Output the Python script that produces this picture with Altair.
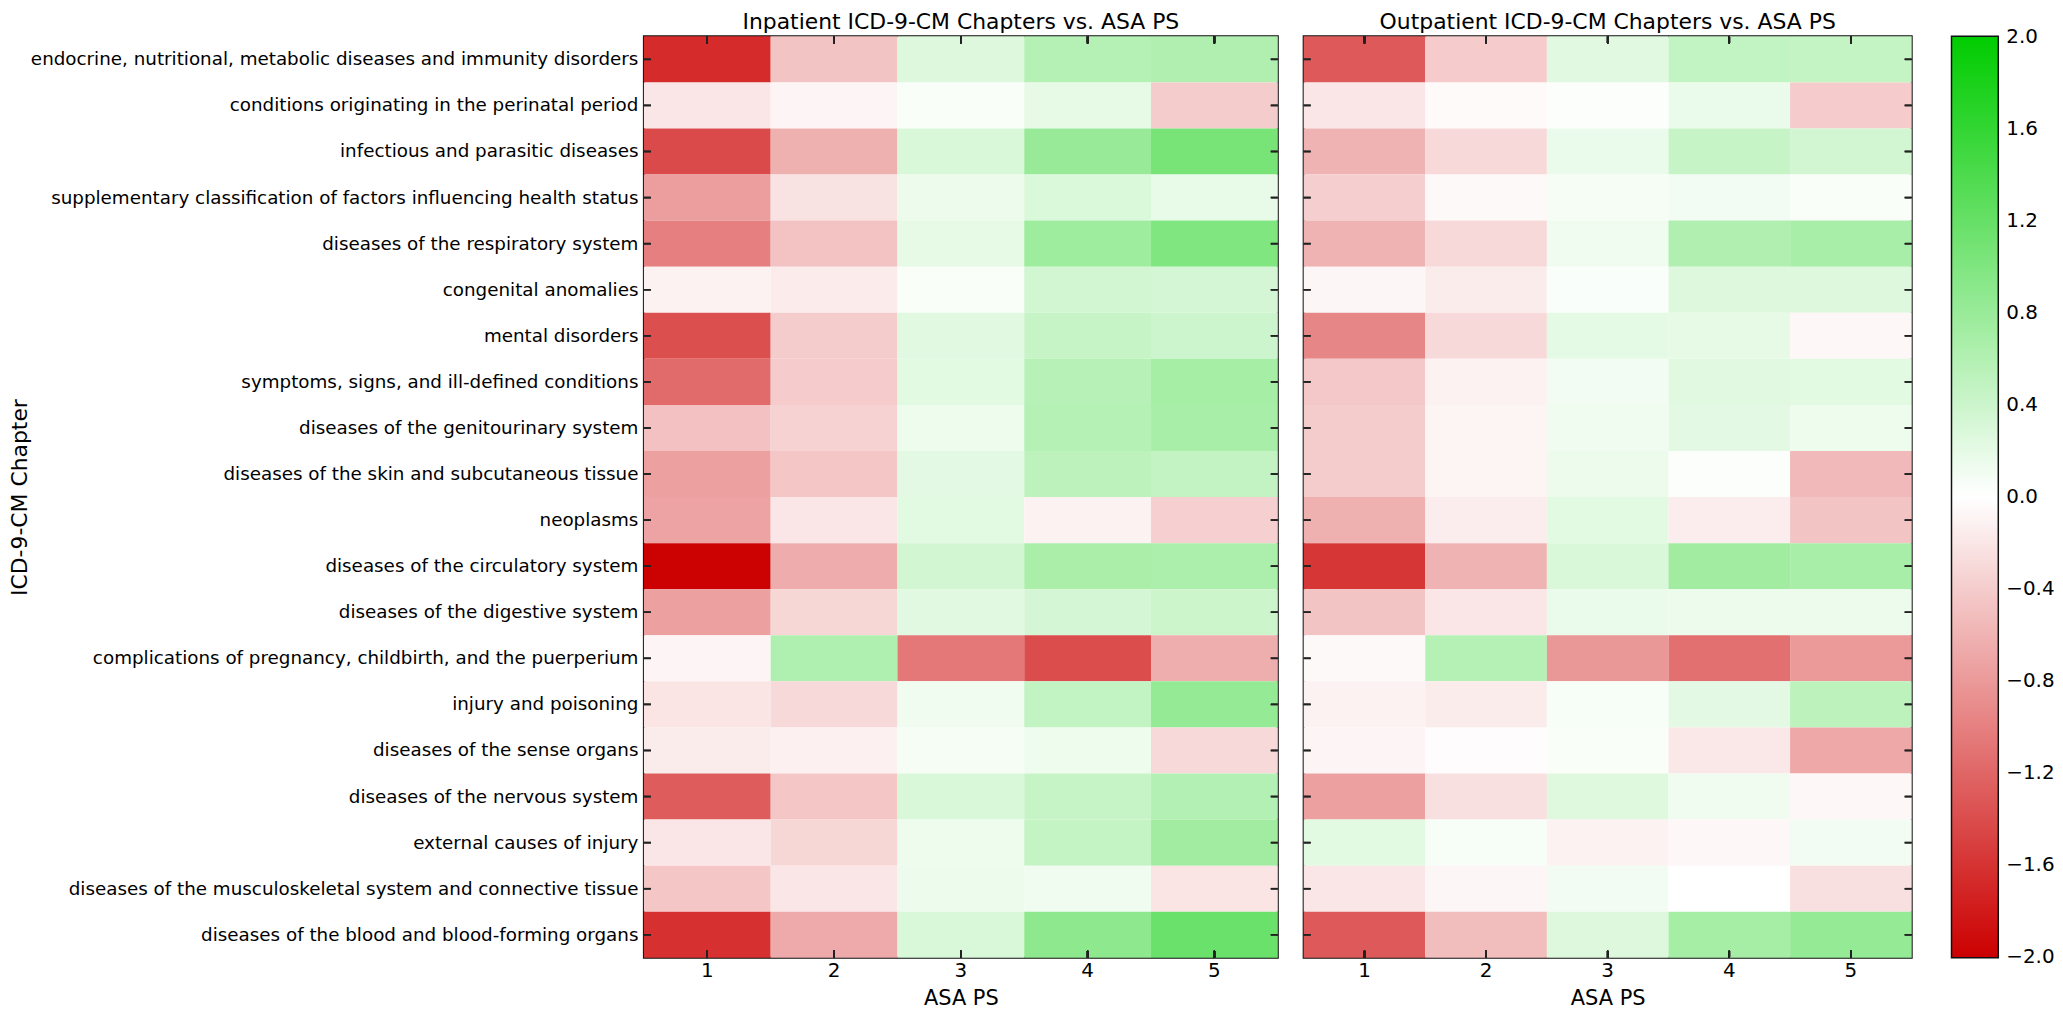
import altair as alt
import pandas as pd

FONT = "DejaVu Sans"

chapters = [
    "endocrine, nutritional, metabolic diseases and immunity disorders",
    "conditions originating in the perinatal period",
    "infectious and parasitic diseases",
    "supplementary classification of factors influencing health status",
    "diseases of the respiratory system",
    "congenital anomalies",
    "mental disorders",
    "symptoms, signs, and ill-defined conditions",
    "diseases of the genitourinary system",
    "diseases of the skin and subcutaneous tissue",
    "neoplasms",
    "diseases of the circulatory system",
    "diseases of the digestive system",
    "complications of pregnancy, childbirth, and the puerperium",
    "injury and poisoning",
    "diseases of the sense organs",
    "diseases of the nervous system",
    "external causes of injury",
    "diseases of the musculoskeletal system and connective tissue",
    "diseases of the blood and blood-forming organs",
]
asa_levels = [1, 2, 3, 4, 5]

# Inpatient panel, one list per ASA PS level (rows in chapter order)
in_asa1 = [-1.67, -0.20, -1.42, -0.76, -1.00, -0.10, -1.38, -1.17, -0.49, -0.75,
           -0.72, -2.00, -0.75, -0.08, -0.21, -0.15, -1.28, -0.20, -0.45, -1.63]
in_asa2 = [-0.46, -0.08, -0.62, -0.23, -0.48, -0.16, -0.40, -0.41, -0.35, -0.45,
           -0.20, -0.65, -0.32, 0.63, -0.30, -0.12, -0.45, -0.32, -0.20, -0.67]
in_asa3 = [0.27, 0.05, 0.30, 0.15, 0.20, 0.05, 0.24, 0.23, 0.13, 0.22,
           0.23, 0.35, 0.24, -1.06, 0.12, 0.08, 0.30, 0.13, 0.15, 0.30]
in_asa4 = [0.58, 0.20, 0.81, 0.29, 0.76, 0.35, 0.45, 0.56, 0.58, 0.52,
           -0.10, 0.67, 0.34, -1.41, 0.48, 0.13, 0.45, 0.46, 0.12, 0.89]
in_asa5 = [0.62, -0.40, 1.06, 0.18, 1.00, 0.34, 0.39, 0.70, 0.68, 0.47,
           -0.37, 0.65, 0.40, -0.64, 0.83, -0.30, 0.60, 0.73, -0.21, 1.17]

# Outpatient panel
out_asa1 = [-1.30, -0.20, -0.60, -0.38, -0.60, -0.07, -0.95, -0.43, -0.40, -0.40,
            -0.62, -1.58, -0.46, -0.05, -0.10, -0.08, -0.75, 0.23, -0.20, -1.30]
out_asa2 = [-0.41, -0.04, -0.30, -0.05, -0.30, -0.15, -0.30, -0.10, -0.09, -0.09,
            -0.14, -0.60, -0.20, 0.58, -0.15, -0.02, -0.24, 0.06, -0.07, -0.52]
out_asa3 = [0.24, 0.02, 0.16, 0.08, 0.12, 0.04, 0.21, 0.10, 0.12, 0.15,
            0.23, 0.30, 0.16, -0.82, 0.06, 0.05, 0.25, -0.10, 0.10, 0.27]
out_asa4 = [0.48, 0.16, 0.45, 0.10, 0.62, 0.27, 0.20, 0.24, 0.22, 0.03,
            -0.14, 0.73, 0.15, -1.12, 0.22, -0.18, 0.11, -0.06, 0.00, 0.70]
out_asa5 = [0.46, -0.41, 0.35, 0.05, 0.68, 0.27, -0.06, 0.23, 0.13, -0.55,
            -0.46, 0.68, 0.15, -0.80, 0.52, -0.68, -0.06, 0.10, -0.24, 0.83]

panels = {
    "Inpatient": [in_asa1, in_asa2, in_asa3, in_asa4, in_asa5],
    "Outpatient": [out_asa1, out_asa2, out_asa3, out_asa4, out_asa5],
}
legend_values = [-2.0, -1.6, -1.2, -0.8, -0.4, 0.0, 0.4, 0.8, 1.2, 1.6, 2.0]

records = []
for setting, cols in panels.items():
    for asa, col in zip(asa_levels, cols):
        for chapter, v in zip(chapters, col):
            records.append({"setting": setting, "chapter": chapter, "asa": asa, "value": v})
df = pd.DataFrame(records)

PLOT_H = 926

color_scale = alt.Scale(domain=[-2.004, 0, 2.004],
                        range=["#cc0000", "#ffffff", "#00cc00"],
                        interpolate="rgb")
legend = alt.Legend(
    title=None, orient="none", legendX=1314, legendY=0, direction="vertical",
    gradientLength=PLOT_H, gradientThickness=47,
    gradientStrokeColor="#111111", gradientStrokeWidth=1.5,
    values=legend_values, format=".1f",
    labelFont=FONT, labelFontSize=20, labelColor="black", labelOffset=8,
    labelOverlap=False, padding=0,
)

TICK = "#222222"


def panel(setting, width, show_y):
    base = alt.Chart(df).transform_filter(alt.datum.setting == setting)
    if show_y:
        y_axis = alt.Axis(
            title="ICD-9-CM Chapter", titleFont=FONT, titleFontSize=22,
            titleFontWeight="normal", titleColor="black",
            titleX=-620, titleBaseline="alphabetic",
            labelFont=FONT, labelFontSize=18.4, labelColor="black",
            labelPadding=6, labelLimit=0, ticks=False, domain=False,
        )
    else:
        y_axis = None
    x_axis = alt.Axis(
        title="ASA PS", titleFont=FONT, titleFontSize=21, titleFontWeight="normal",
        titleColor="black", titleY=47, titleBaseline="alphabetic",
        labelFont=FONT, labelFontSize=20, labelColor="black", labelAngle=0,
        labelPadding=3, ticks=False, domain=False,
    )
    x_enc = alt.X("asa:O", axis=x_axis, scale=alt.Scale(paddingInner=0, paddingOuter=0))
    y_enc = alt.Y("chapter:N", sort=chapters, axis=y_axis,
                  scale=alt.Scale(paddingInner=0, paddingOuter=0))
    rect = base.mark_rect().encode(
        x=x_enc,
        y=y_enc,
        color=alt.Color("value:Q", scale=color_scale, legend=legend),
    )
    y_ticks_l = base.mark_tick(orient="horizontal", size=7, thickness=1.5, color=TICK).encode(
        y=y_enc, x=alt.value(3.5))
    y_ticks_r = base.mark_tick(orient="horizontal", size=7, thickness=1.5, color=TICK).encode(
        y=y_enc, x=alt.value(width - 3.5))
    x_ticks_t = base.mark_tick(orient="vertical", size=7, thickness=1.5, color=TICK).encode(
        x=x_enc, y=alt.value(3.5))
    x_ticks_b = base.mark_tick(orient="vertical", size=7, thickness=1.5, color=TICK).encode(
        x=x_enc, y=alt.value(PLOT_H - 3.5))
    return alt.layer(rect, y_ticks_l, y_ticks_r, x_ticks_t, x_ticks_b).properties(
        width=width, height=PLOT_H,
        title=alt.TitleParams(
            f"{setting} ICD-9-CM Chapters vs. ASA PS", font=FONT, fontSize=22,
            fontWeight="normal", color="black", anchor="middle",
            baseline="alphabetic", offset=-15,
        ),
    )


chart = alt.hconcat(
    panel("Inpatient", 637, True),
    panel("Outpatient", 611, False),
    spacing=24,
).resolve_scale(color="shared").configure_view(
    stroke="#111111", strokeWidth=2
).properties(
    padding={"left": 0, "top": 0, "right": 0, "bottom": 0},
    background="white",
)

chart.save("out.html", embed_options={"renderer": "svg", "actions": False})
